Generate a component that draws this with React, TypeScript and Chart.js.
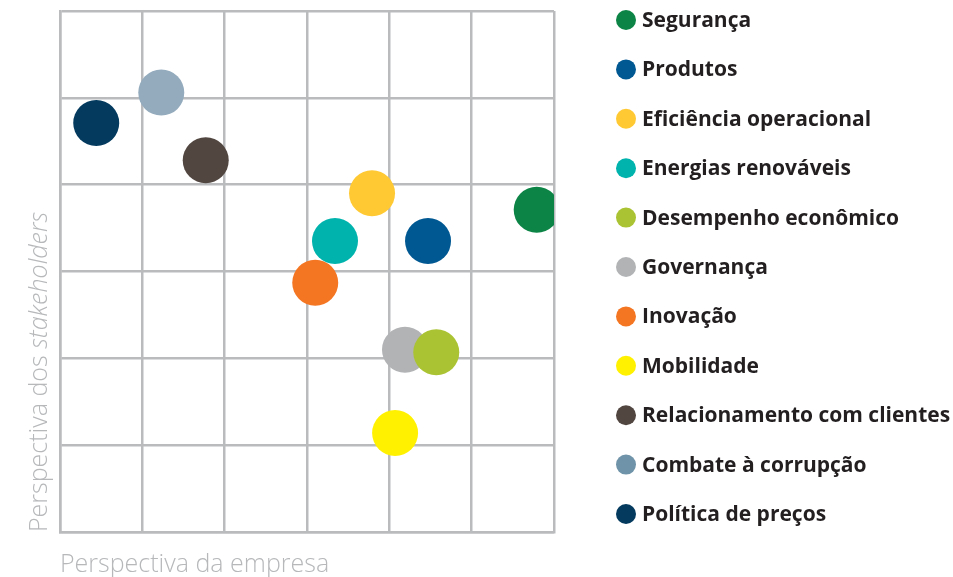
import React, { useEffect, useRef } from "react";
import { Chart, registerables } from "chart.js";

Chart.register(...registerables);

const topics = [
  "Segurança",
  "Produtos",
  "Eficiência operacional",
  "Energias renováveis",
  "Desempenho econômico",
  "Governança",
  "Inovação",
  "Mobilidade",
  "Relacionamento com clientes",
  "Combate à corrupção",
  "Política de preços",
];

// Perspectiva da empresa (x) and Perspectiva dos stakeholders (y), scale 0–6
const companyView = [5.79, 4.47, 3.79, 3.34, 4.57, 4.19, 3.1, 4.07, 1.77, 1.23, 0.44];
const stakeholderView = [3.71, 3.35, 3.9, 3.35, 2.07, 2.1, 2.87, 1.14, 4.28, 5.06, 4.71];

const pointColors = [
  "#0b8445",
  "#005892",
  "#ffc933",
  "#00b3ad",
  "#aac332",
  "#b1b3b5",
  "#f47522",
  "#fff100",
  "#524641",
  "#93abbd",
  "#033a5e",
];
const legendColors = [
  "#0b8445",
  "#005892",
  "#ffc933",
  "#00b3ad",
  "#aac332",
  "#b1b3b5",
  "#f47522",
  "#fff100",
  "#524641",
  "#6f93a8",
  "#033a5e",
];

const axisMin = 0;
const axisMax = 6;
const xTitle = "Perspectiva da empresa";
const yTitleParts = ["Perspectiva dos ", "stakeholders"];

const GRID = "#b9bbbd";
const TITLE_COLOR = "#b6b8ba";

const decorPlugin = {
  id: "decor",
  afterDraw(chart: any) {
    const { ctx, chartArea } = chart;
    ctx.save();
    // x title
    ctx.fillStyle = TITLE_COLOR;
    ctx.font = "300 25px 'Open Sans', sans-serif";
    ctx.textBaseline = "alphabetic";
    ctx.textAlign = "left";
    ctx.fillText(xTitle, chartArea.left, chartArea.bottom + 40);

    // y title (rotated, mixed style)
    ctx.save();
    ctx.translate(chartArea.left - 13, chartArea.bottom);
    ctx.rotate(-Math.PI / 2);
    ctx.font = "300 25px 'Open Sans', sans-serif";
    ctx.fillText(yTitleParts[0], 0, 0);
    const w0 = ctx.measureText(yTitleParts[0]).width;
    ctx.font = "italic 300 25px 'Open Sans', sans-serif";
    ctx.fillText(yTitleParts[1], w0, 0);
    ctx.restore();

    // legend
    const lx = chartArea.right + 72;
    const ly0 = chartArea.top + 9;
    const step = 49.4;
    ctx.textBaseline = "middle";
    ctx.font = "bold 21px 'Open Sans', sans-serif";
    topics.forEach((t, i) => {
      const y = ly0 + i * step;
      ctx.beginPath();
      ctx.fillStyle = legendColors[i];
      ctx.arc(lx, y, 10, 0, Math.PI * 2);
      ctx.fill();
      ctx.fillStyle = "#231f20";
      ctx.fillText(t, lx + 16, y + 1);
    });
    ctx.restore();
  },
};

export default function App() {
  const ref = useRef<HTMLCanvasElement>(null);
  useEffect(() => {
    if (!ref.current) return;
    const chart = new Chart(ref.current, {
      type: "scatter",
      data: {
        datasets: topics.map((t, i) => ({
          label: t,
          data: [{ x: companyView[i], y: stakeholderView[i] }],
          backgroundColor: pointColors[i],
          borderWidth: 0,
          pointRadius: 23,
          pointHoverRadius: 23,
        })),
      },
      options: {
        responsive: false,
        animation: false,
        events: [],
        layout: { autoPadding: false, padding: { left: 60, top: 11, right: 399, bottom: 45 } },
        plugins: { legend: { display: false }, tooltip: { enabled: false } },
        scales: {
          x: {
            min: axisMin,
            max: axisMax,
            ticks: { display: false, stepSize: 1 },
            grid: { color: GRID, lineWidth: 2.5, drawTicks: false },
            border: { color: GRID, width: 2.5 },
          },
          y: {
            min: axisMin,
            max: axisMax,
            ticks: { display: false, stepSize: 1 },
            grid: { color: GRID, lineWidth: 2.5, drawTicks: false },
            border: { color: GRID, width: 2.5 },
          },
        },
      },
      plugins: [decorPlugin],
    });
    return () => chart.destroy();
  }, []);
  return (
    <div style={{ position: "absolute", left: 0, top: 0, width: 953, height: 577, background: "#fff" }}>
      <canvas ref={ref} width={953} height={577} />
    </div>
  );
}
